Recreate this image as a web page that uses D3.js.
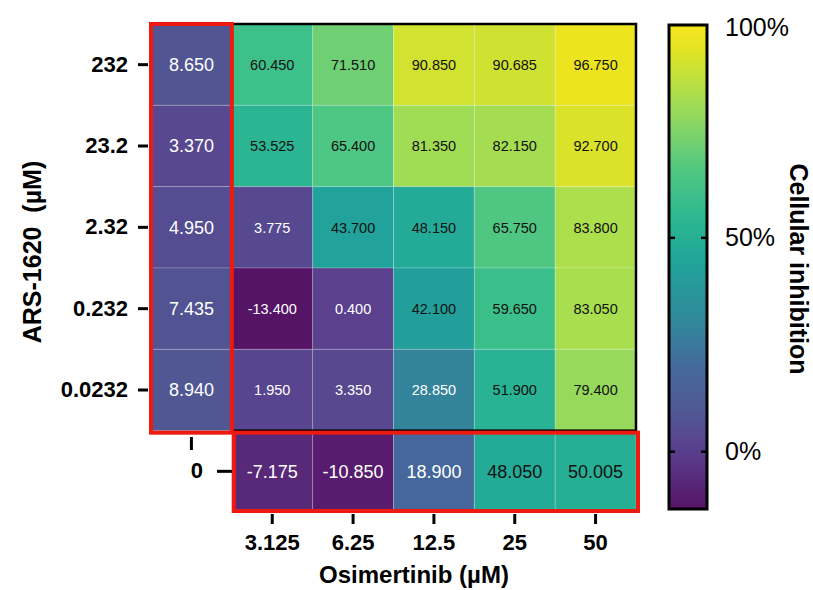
<!DOCTYPE html>
<html>
<head>
<meta charset="utf-8">
<script src="https://cdn.jsdelivr.net/npm/d3@7"></script>
<style>
  body { margin: 0; background: #fff; }
  svg { display: block; font-family: "Liberation Sans", Arial, Helvetica, sans-serif; }
</style>
</head>
<body>
<svg id="chart" width="813" height="590"></svg>
<script>
// Osimertinib columns (first one is the 0 column, unlabeled)
const osiDoses = ["0", "3.125", "6.25", "12.5", "25", "50"];
// ARS-1620 rows, top to bottom
const arsDoses = ["232", "23.2", "2.32", "0.232", "0.0232", "0"];

// % inhibition, one array per ARS-1620 row (null = no cell)
const row232 = [8.650, 60.450, 71.510, 90.850, 90.685, 96.750];
const row23_2 = [3.370, 53.525, 65.400, 81.350, 82.150, 92.700];
const row2_32 = [4.950, 3.775, 43.700, 48.150, 65.750, 83.800];
const row0_232 = [7.435, -13.400, 0.400, 42.100, 59.650, 83.050];
const row0_0232 = [8.940, 1.950, 3.350, 28.850, 51.900, 79.400];
const row0 = [null, -7.175, -10.850, 18.900, 48.050, 50.005];
const rows = [row232, row23_2, row2_32, row0_232, row0_0232, row0];

const colorTicks = [0, 50, 100];
const colorMin = -13.4, colorMax = 100;

// colour ramp (viridis-like, as in the figure)
const rampStops = [-13.4, 0, 10, 20, 30, 45, 55, 65, 75, 85, 95, 100];
const rampColors = ["#561466", "#5b3f8e", "#4f5a94", "#44699c", "#31879a", "#1fa59a",
                    "#2eb891", "#4bc684", "#80d46a", "#b3e048", "#e6e420", "#f7e51e"];

const svg = d3.select("#chart");
const color = d3.scaleLinear().domain(rampStops).range(rampColors);

const x = d3.scaleBand().domain(osiDoses).range([151, 636]);
const y = d3.scaleBand().domain(arsDoses).range([24, 512]);
const bw = x.bandwidth(), bh = y.bandwidth();

const cells = [];
rows.forEach((r, i) => r.forEach((v, j) => {
  if (v !== null) cells.push({ row: arsDoses[i], col: osiDoses[j], v });
}));

const g = svg.append("g");
g.selectAll("rect.cell")
  .data(cells)
  .enter().append("rect")
  .attr("class", "cell")
  .attr("x", d => x(d.col))
  .attr("y", d => y(d.row))
  .attr("width", bw)
  .attr("height", bh)
  .attr("fill", d => color(d.v))
  .attr("stroke", "rgba(255,255,255,0.2)")
  .attr("stroke-width", 1);

g.selectAll("text.val")
  .data(cells)
  .enter().append("text")
  .attr("class", "val")
  .attr("x", d => x(d.col) + bw / 2)
  .attr("y", d => y(d.row) + bh / 2)
  .attr("dy", "0.36em")
  .attr("text-anchor", "middle")
  .attr("font-size", d => (d.col === "0" || d.row === "0") ? 18 : 14.5)
  .attr("fill", d => d.v < 35 ? "#fff" : "#111")
  .text(d => d.v.toFixed(3));

// black frame around the combination block
svg.append("rect")
  .attr("x", x("3.125"))
  .attr("y", y("232"))
  .attr("width", x("50") + bw - x("3.125"))
  .attr("height", y("0.0232") + bh - y("232"))
  .attr("fill", "none")
  .attr("stroke", "#000")
  .attr("stroke-width", 2.5);

// red frames around the single-agent cells
svg.append("rect")
  .attr("x", x("0"))
  .attr("y", y("232"))
  .attr("width", bw)
  .attr("height", y("0.0232") + bh - y("232") + 2)
  .attr("fill", "none")
  .attr("stroke", "#ee1a10")
  .attr("stroke-width", 4);

svg.append("rect")
  .attr("x", x("3.125") + 2)
  .attr("y", y("0") + 2)
  .attr("width", x("50") + bw - x("3.125"))
  .attr("height", bh - 3)
  .attr("fill", "none")
  .attr("stroke", "#ee1a10")
  .attr("stroke-width", 4);

// axes
function styleAxis(sel, size) {
  sel.select(".domain").remove();
  sel.selectAll(".tick line").attr("stroke", "#000").attr("stroke-width", 3);
  sel.selectAll(".tick text")
    .attr("fill", "#000")
    .attr("font-size", size)
    .attr("font-weight", "bold")
    .attr("font-family", "Liberation Sans, Arial, sans-serif");
}

svg.append("g")
  .attr("transform", "translate(148,0)")
  .call(d3.axisLeft(y).tickValues(arsDoses.slice(0, 5)).tickSize(10).tickPadding(10))
  .call(styleAxis, 22);

svg.append("g")
  .attr("transform", "translate(232,0)")
  .call(d3.axisLeft(y).tickValues(["0"]).tickSize(15).tickPadding(14))
  .call(styleAxis, 22);

svg.append("g")
  .attr("transform", "translate(0,514)")
  .call(d3.axisBottom(x).tickValues(osiDoses.slice(1)).tickSize(10).tickPadding(10))
  .call(styleAxis, 22);

svg.append("g")
  .attr("transform", "translate(0,437)")
  .call(d3.axisBottom(x).tickValues(["0"]).tickSize(13).tickFormat(""))
  .call(styleAxis, 22);

// axis titles
svg.append("text")
  .attr("x", 414)
  .attr("y", 583)
  .attr("text-anchor", "middle")
  .attr("font-size", 24)
  .attr("font-weight", "bold")
  .text("Osimertinib (µM)");

svg.append("text")
  .attr("transform", "translate(41,252) rotate(-90)")
  .attr("text-anchor", "middle")
  .attr("font-size", 25)
  .attr("font-weight", "bold")
  .text("ARS-1620\u00a0\u00a0(µM)");

// colour bar
const cb = { x: 669, w: 38, top: 25, bottom: 509 };
const cy = d3.scaleLinear().domain([colorMin, colorMax]).range([cb.bottom, cb.top - 1]);

const grad = svg.append("defs").append("linearGradient")
  .attr("id", "cbar")
  .attr("x1", 0).attr("y1", 1).attr("x2", 0).attr("y2", 0);
grad.selectAll("stop")
  .data(d3.range(0, 1.0001, 0.05))
  .enter().append("stop")
  .attr("offset", t => t)
  .attr("stop-color", t => color(colorMin + t * (colorMax - colorMin)));

svg.append("rect")
  .attr("x", cb.x).attr("y", cb.top)
  .attr("width", cb.w).attr("height", cb.bottom - cb.top)
  .attr("fill", "url(#cbar)")
  .attr("stroke", "#000")
  .attr("stroke-width", 3);

// inner ticks on both sides of the bar
const innerTicks = svg.append("g");
colorTicks.filter(t => t < 100).forEach(t => {
  innerTicks.append("line")
    .attr("x1", cb.x).attr("x2", cb.x + 6)
    .attr("y1", cy(t)).attr("y2", cy(t))
    .attr("stroke", "#000").attr("stroke-width", 2.5);
  innerTicks.append("line")
    .attr("x1", cb.x + cb.w - 6).attr("x2", cb.x + cb.w)
    .attr("y1", cy(t)).attr("y2", cy(t))
    .attr("stroke", "#000").attr("stroke-width", 2.5);
});

const cAxis = svg.append("g")
  .attr("transform", `translate(${cb.x + cb.w},0)`)
  .call(d3.axisRight(cy).tickValues(colorTicks).tickSize(0).tickPadding(18)
    .tickFormat(d => d + "%"));
cAxis.select(".domain").remove();
cAxis.selectAll(".tick text")
  .attr("fill", "#000")
  .attr("font-size", 25)
  .attr("font-family", "Liberation Sans, Arial, sans-serif")
  .attr("dy", "0.3em");
cAxis.selectAll(".tick")
  .filter(d => d === 100)
  .select("text").attr("dy", "0.45em");

svg.append("text")
  .attr("transform", "translate(790,269) rotate(90)")
  .attr("text-anchor", "middle")
  .attr("font-size", 25)
  .attr("font-weight", "bold")
  .text("Cellular inhibition");
</script>
</body>
</html>
